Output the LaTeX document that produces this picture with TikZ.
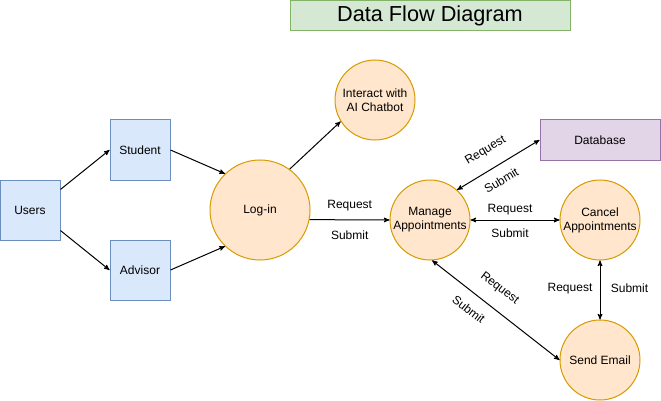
\documentclass[tikz,border=0pt]{standalone}
\usepackage{fontspec}
\setmainfont{Liberation Sans}
\usetikzlibrary{%
  arrows,%
  positioning% wg. " of "
}
\definecolor{entfill}{HTML}{DAE8FC}
\definecolor{entline}{HTML}{6C8EBF}
\definecolor{procfill}{HTML}{FFE6CC}
\definecolor{procline}{HTML}{D79B00}
\definecolor{storefill}{HTML}{E1D5E7}
\definecolor{storeline}{HTML}{9673A6}
\definecolor{titlefill}{HTML}{D5E8D4}
\definecolor{titleline}{HTML}{82B366}

\begin{document}
\begin{tikzpicture}
  [
  x=1pt, y=-1pt,
  font=\fontsize{12}{14}\selectfont, line width=1pt, draw=black, >=stealth',
  entity/.style={rectangle, draw=entline, fill=entfill, minimum size=60pt, inner sep=0pt},
  process/.style={circle, draw=procline, fill=procfill, minimum size=80pt, inner sep=0pt, align=center},
  store/.style={rectangle, draw=storeline, fill=storefill, minimum width=120pt, minimum height=40pt, inner sep=0pt},
  heading/.style={rectangle, draw=titleline, fill=titlefill, minimum width=280pt, minimum height=30pt, inner sep=0pt, font=\fontsize{21.7}{26}\selectfont},
  flowlabel/.style={inner sep=0pt},
  ]
  \useasboundingbox (0,0) rectangle (661,401);

  \node[heading] (title) at (430,16) {Data Flow Diagram};

  \node[entity] (users) at (30,210) {Users};
  \node[entity] (student) at (140,150) {Student};
  \node[entity] (advisor) at (140,270) {Advisor};

  \node[process, minimum size=100pt] (login) at (260,210) {Log-in};
  \node[process] (chatbot) at (375,100) {Interact with\\AI Chatbot};
  \node[process] (manage) at (430,220) {Manage\\Appointments};
  \node[process] (cancel) at (600,220) {Cancel\\Appointments};
  \node[process] (send) at (600,360) {Send Email};
  \node[store] (database) at (600,140) {Database};

  % users to log-in
  \draw[->] (users.34) -- (student.west);
  \draw[->] (users.-34) -- (advisor.west);
  \draw[->] (student.east) -- (login.134);
  \draw[->] (advisor.east) -- (login.-134);
  \draw[->] (login.54) -- (chatbot.212);

  % appointment flows
  \draw[->] (login.-11.5) -- (manage.west);
  \draw[<->] (manage.48) -- (database.west);
  \draw[<->] (manage.east) -- (cancel.west);
  \draw[<->] (cancel.south) -- (send.north);
  \draw[<->] (manage.-87) -- (send.west);

  \node[flowlabel] (req1) at (349.7,205.3) {Request};
  \node[flowlabel] (sub1) at (349.7,235.7) {Submit};
  \node[flowlabel, rotate=30.6] (req2) at (485.7,150.7) {Request};
  \node[flowlabel, rotate=30.6] (sub2) at (501.3,180.3) {Submit};
  \node[flowlabel] (req3) at (510,210) {Request};
  \node[flowlabel] (sub3) at (510,233.3) {Submit};
  \node[flowlabel] (req4) at (570,288.7) {Request};
  \node[flowlabel] (sub4) at (629.5,288.3) {Submit};
  \node[flowlabel, rotate=-37.4] (req5) at (499.5,288.3) {Request};
  \node[flowlabel, rotate=-37.4] (sub5) at (468.7,309.2) {Submit};

\end{tikzpicture}
\end{document}
